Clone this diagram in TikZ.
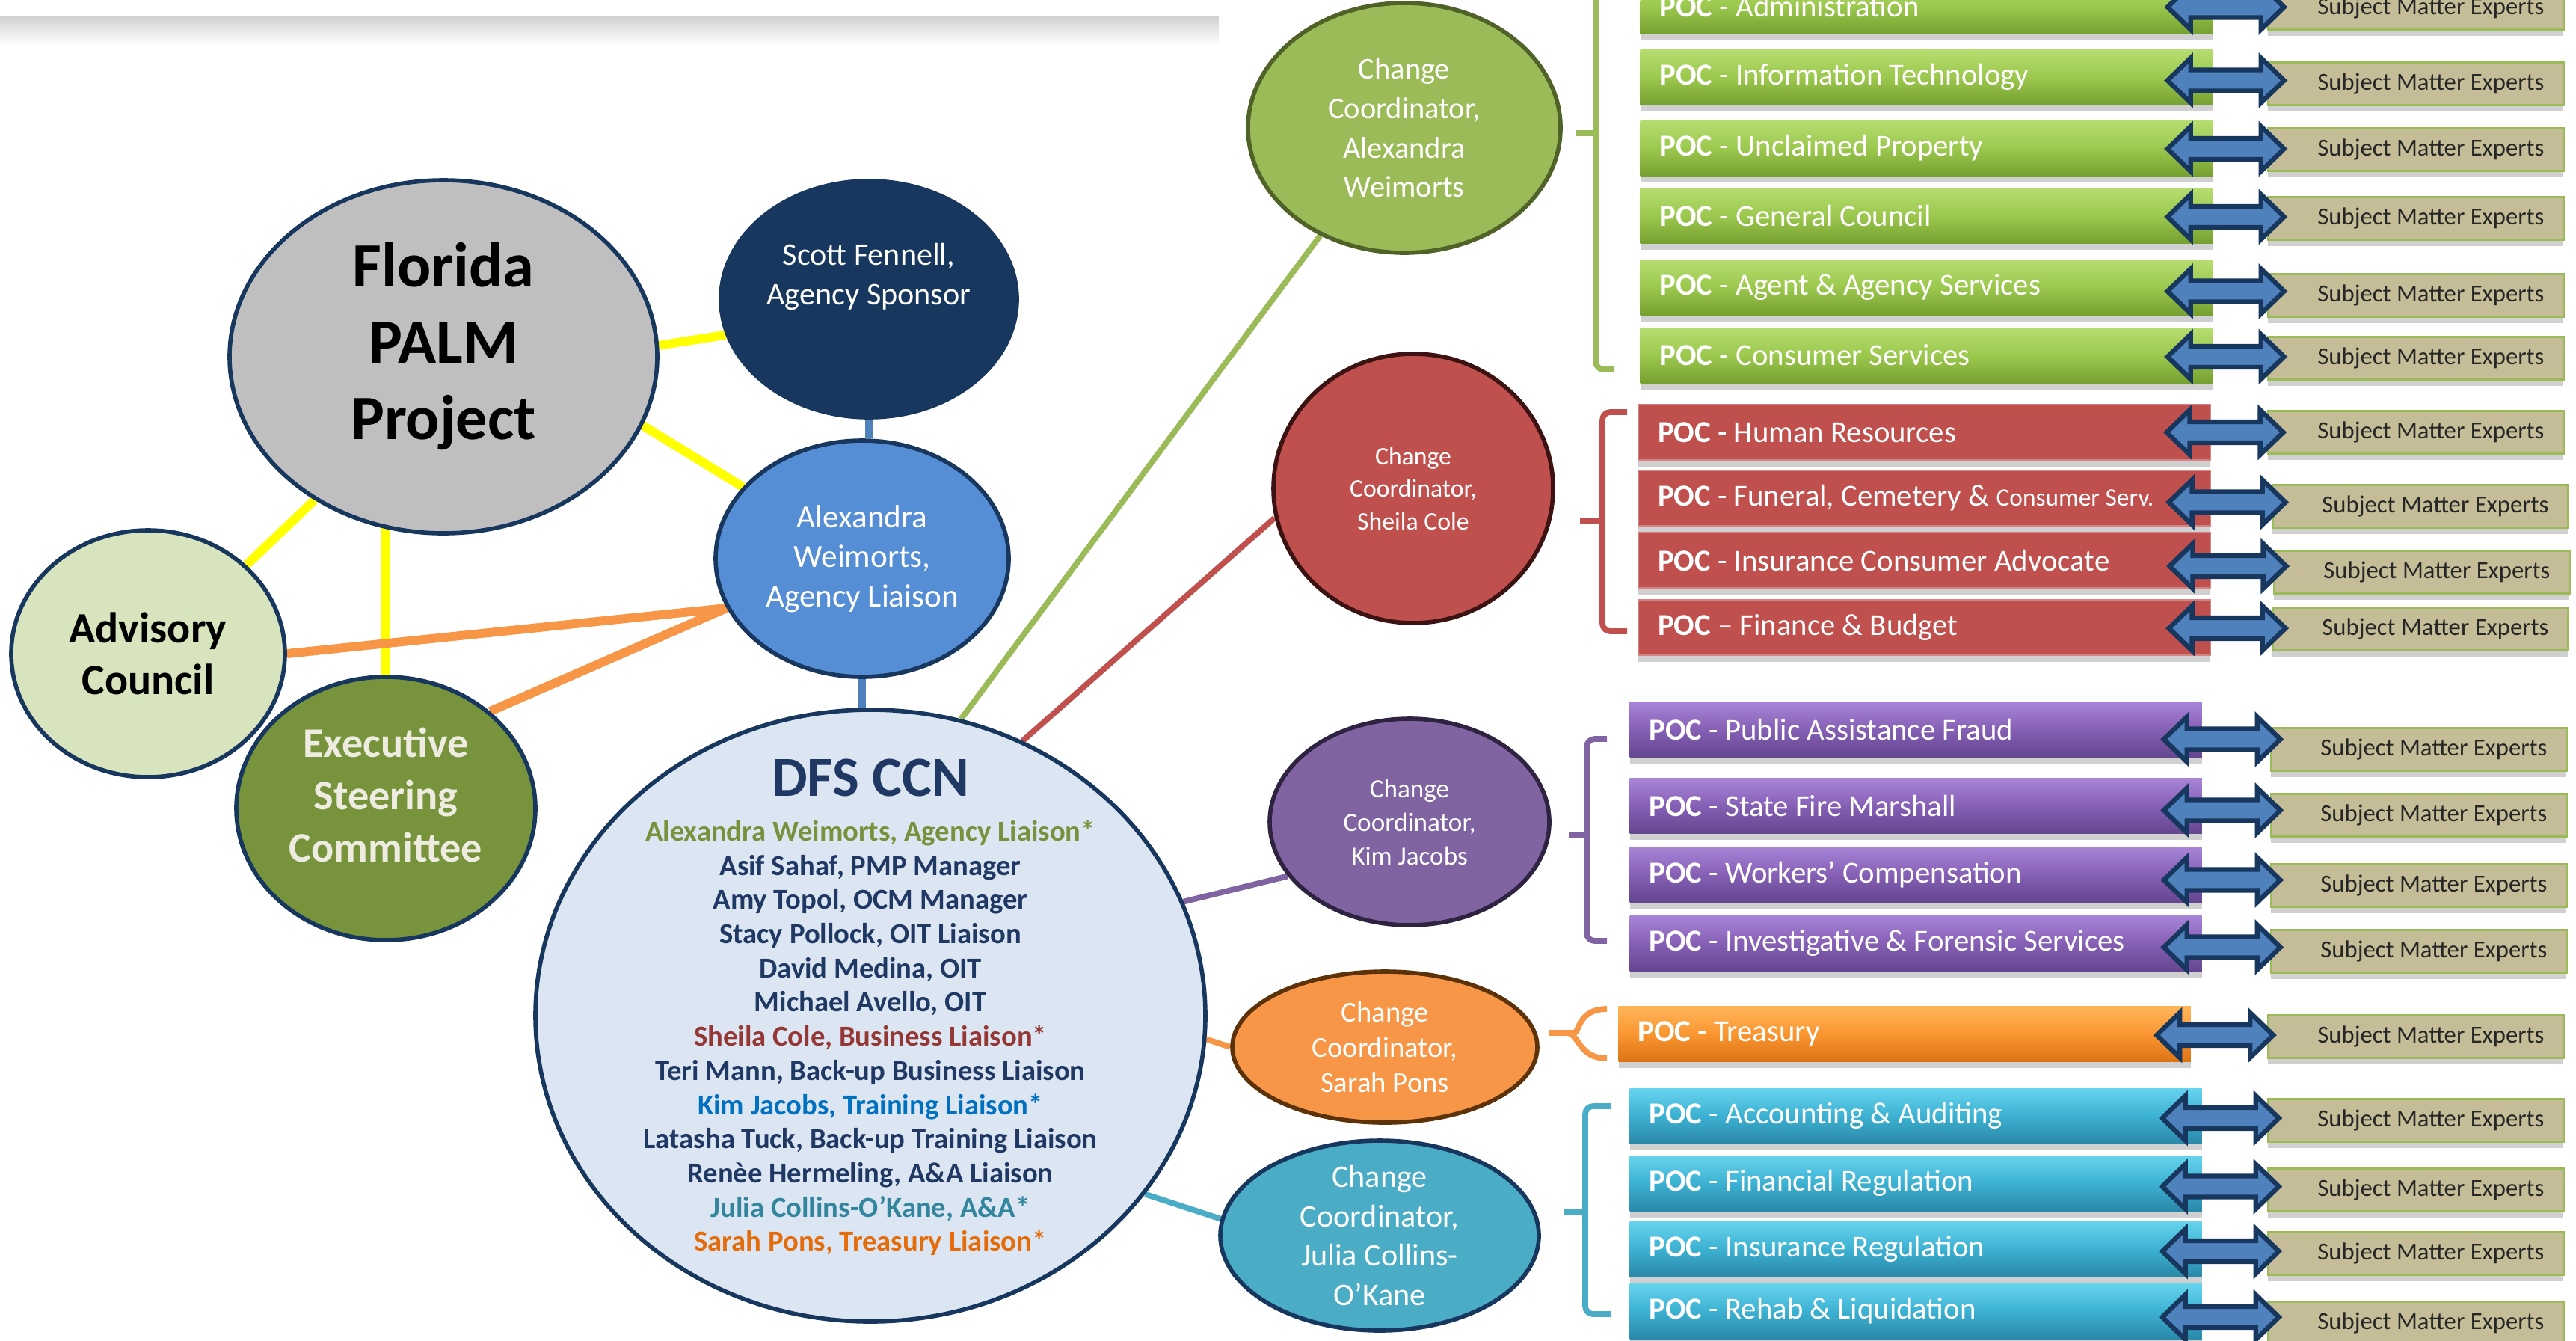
\documentclass[tikz,border=0pt]{standalone}
\usepackage{fontspec}
\setmainfont{Carlito}
\usetikzlibrary{shapes,calc,backgrounds}

\definecolor{navy}{HTML}{17375E}
\definecolor{navytxt}{HTML}{1F3864}
\definecolor{palmgray}{HTML}{BFBFBF}
\definecolor{liaison}{HTML}{558ED5}
\definecolor{advisory}{HTML}{D7E4BD}
\definecolor{steering}{HTML}{77933C}
\definecolor{ccnfill}{HTML}{DCE6F2}
\definecolor{linkyellow}{HTML}{FFFF00}
\definecolor{linkorange}{HTML}{F79646}
\definecolor{linkblue}{HTML}{4F81BD}
\definecolor{ccgreen}{HTML}{9BBB59}
\definecolor{ccgreenD}{HTML}{4F6228}
\definecolor{ccred}{HTML}{C0504D}
\definecolor{ccredD}{HTML}{3C1312}
\definecolor{ccpurple}{HTML}{8064A2}
\definecolor{ccpurpleD}{HTML}{2E2442}
\definecolor{ccorange}{HTML}{F79646}
\definecolor{ccorangeD}{HTML}{5E3208}
\definecolor{ccteal}{HTML}{4BACC6}
\definecolor{smefill}{HTML}{C4BD97}
\definecolor{shadowgray}{HTML}{D0D0D0}
\definecolor{cream}{HTML}{EEECE1}
\definecolor{txtgreen}{HTML}{76923C}
\definecolor{txtred}{HTML}{953735}
\definecolor{txtblue}{HTML}{0070C0}
\definecolor{txtteal}{HTML}{31859C}
\definecolor{txtorange}{HTML}{E46C0A}
\definecolor{gbarT}{HTML}{B6DD70}
\definecolor{gbarM}{HTML}{9CC84E}
\definecolor{gbarB}{HTML}{76A030}
\definecolor{pbarT}{HTML}{A985D8}
\definecolor{pbarM}{HTML}{8560B5}
\definecolor{pbarB}{HTML}{654690}
\definecolor{obarT}{HTML}{FFB65A}
\definecolor{obarM}{HTML}{FA9632}
\definecolor{obarB}{HTML}{DC7414}
\definecolor{tbarT}{HTML}{66D4EE}
\definecolor{tbarM}{HTML}{3DB1D2}
\definecolor{tbarB}{HTML}{2A88A8}

\tikzset{
  bubble/.style={ellipse,draw=navy,line width=1.6pt,inner sep=0pt},
  btext/.style={align=center,inner sep=0pt},
  link/.style={line width=3.4pt},
  cclink/.style={line width=2.2pt},
  brace/.style={line width=2.2pt,rounded corners=3pt},
  poc/.style={anchor=west,minimum width=7.65cm,minimum height=0.74cm,text width=7.13cm,
    inner xsep=0.26cm,inner ysep=0pt,align=flush left,text=white,font=\fontsize{11.6}{13}\selectfont,
    preaction={fill=shadowgray,transform canvas={yshift=-2.5pt}}},
  pocgreen/.style={poc,top color=gbarT,bottom color=gbarB,middle color=gbarM},
  pocred/.style={poc,fill=ccred,draw=ccred!70!white,line width=.6pt},
  pocpurple/.style={poc,top color=pbarT,bottom color=pbarB,middle color=pbarM},
  pocorange/.style={poc,top color=obarT,bottom color=obarB,middle color=obarM},
  pocteal/.style={poc,top color=tbarT,bottom color=tbarB,middle color=tbarM},
  sme/.style={anchor=west,minimum width=3.95cm,minimum height=0.57cm,text width=3.43cm,
    inner xsep=0.26cm,inner ysep=0pt,align=flush right,fill=smefill,draw=ccgreen,line width=.8pt,
    text=black!85,font=\fontsize{9.3}{11}\selectfont,
    preaction={fill=shadowgray,draw=none,transform canvas={yshift=-2.5pt}}},
  pics/twoway/.style={code={
    \filldraw[fill=linkblue,draw=navy,line width=1.8pt,line join=miter]
      (-0.78,0) -- (-0.47,0.30) -- (-0.47,0.14) -- (0.47,0.14) -- (0.47,0.30) -- (0.78,0)
      -- (0.47,-0.30) -- (0.47,-0.14) -- (-0.47,-0.14) -- (-0.47,-0.30) -- cycle;}},
}

\begin{document}
\begin{tikzpicture}
\useasboundingbox (0,0) rectangle (34.45,-17.92);

% slide frame at the top
\shade[top color=black!18,bottom color=white] (0,-0.22) rectangle (16.3,-0.6);
\fill[white] (-0.2,0.5) rectangle (16.18,-0.22);

% project and sponsor bubbles
\node[bubble,fill=palmgray,minimum width=5.72cm,minimum height=4.72cm] (flp) at (5.93,-4.77) {};
\node[btext,font=\bfseries\fontsize{24}{29}\selectfont] (flp-t) at ($(flp)+(0,0.14)$) {Florida\\PALM\\Project};
\node[bubble,fill=navy,minimum width=3.96cm,minimum height=3.16cm] (scott) at (11.62,-4.00) {};
\node[btext,text=white,font=\fontsize{12}{15}\selectfont] (scott-t) at ($(scott)+(0,0.30)$) {Scott Fennell,\\Agency Sponsor};
\node[bubble,fill=liaison,minimum width=3.92cm,minimum height=3.16cm] (alex) at (11.53,-7.47) {};
\node[btext,text=white,font=\fontsize{12.3}{15}\selectfont] (alex-t) at (alex) {Alexandra\\Weimorts,\\Agency Liaison};
\node[bubble,fill=advisory,minimum width=3.66cm,minimum height=3.30cm] (adv) at (1.98,-8.74) {};
\node[btext,font=\bfseries\fontsize{16.5}{19.5}\selectfont] (adv-t) at (adv) {Advisory\\Council};
\node[bubble,fill=steering,minimum width=4.00cm,minimum height=3.52cm] (exec) at (5.16,-10.81) {};
\node[btext,text=cream,font=\bfseries\fontsize{16}{20}\selectfont] (exec-t) at ($(exec)+(0,0.18)$) {Executive\\Steering\\Committee};

% DFS CCN
\node[bubble,fill=ccnfill,minimum width=8.96cm,minimum height=8.18cm] (dfs) at (11.64,-13.58) {};
\node[btext,text=navytxt,font=\bfseries\fontsize{11}{13}\selectfont] (dfs-t) at ($(dfs)+(0,0.11)$) {%
  {\fontsize{21.5}{24}\selectfont DFS CCN}\\[4pt]
  \textcolor{txtgreen}{Alexandra Weimorts, Agency Liaison*}\\
  Asif Sahaf, PMP Manager\\
  Amy Topol, OCM Manager\\
  Stacy Pollock, OIT Liaison\\
  David Medina, OIT\\
  Michael Avello, OIT\\
  \textcolor{txtred}{Sheila Cole, Business Liaison*}\\
  Teri Mann, Back-up Business Liaison\\
  \textcolor{txtblue}{Kim Jacobs, Training Liaison*}\\
  Latasha Tuck, Back-up Training Liaison\\
  Renèe Hermeling, A\&A Liaison\\
  \textcolor{txtteal}{Julia Collins-O’Kane, A\&A*}\\
  \textcolor{txtorange}{Sarah Pons, Treasury Liaison*}};

% change coordinators
\node[bubble,fill=ccgreen,draw=ccgreenD,minimum width=4.18cm,minimum height=3.34cm] (ccg) at (18.78,-1.71) {};
\node[btext,text=white,font=\fontsize{11.5}{15}\selectfont] (ccg-t) at (ccg) {Change\\Coordinator,\\Alexandra\\Weimorts};
\node[bubble,fill=ccred,draw=ccredD,minimum width=3.74cm,minimum height=3.60cm] (ccr) at (18.90,-6.53) {};
\node[btext,text=white,font=\fontsize{9.6}{12.4}\selectfont] (ccr-t) at (ccr) {Change\\Coordinator,\\Sheila Cole};
\node[bubble,fill=ccpurple,draw=ccpurpleD,minimum width=3.74cm,minimum height=2.76cm] (ccp) at (18.85,-10.99) {};
\node[btext,text=white,font=\fontsize{10}{12.8}\selectfont] (ccp-t) at (ccp) {Change\\Coordinator,\\Kim Jacobs};
\node[bubble,fill=ccorange,draw=ccorangeD,minimum width=4.08cm,minimum height=2.02cm] (cco) at (18.52,-14.00) {};
\node[btext,text=white,font=\fontsize{11}{13.4}\selectfont] (cco-t) at (cco) {Change\\Coordinator,\\Sarah Pons};
\node[bubble,fill=ccteal,minimum width=4.26cm,minimum height=2.54cm] (cct) at (18.45,-16.52) {};
\node[btext,text=white,font=\fontsize{12}{15}\selectfont] (cct-t) at (cct) {Change\\Coordinator,\\Julia Collins-\\O’Kane};

% links behind the bubbles
\begin{scope}[on background layer]
\draw[link,linkyellow] (flp.3) -- (scott.194);
\draw[link,linkyellow] (flp.341) -- (alex.149);
\draw[link,linkyellow] (flp.228) -- (adv.42);
\draw[link,linkyellow] (exec.north) -- (exec.north |- flp.center);
\draw[link,linkorange] (adv.east) -- (alex.200);
\draw[link,linkorange] (exec.43) -- (alex.200);
\draw[link,linkblue,line width=3pt] (scott.south) -- (scott.south |- alex.north);
\draw[link,linkblue,line width=3pt] (alex.south) -- (alex.south |- dfs.north);
\draw[cclink,ccgreen] (dfs.73) -- (ccg.232);
\draw[cclink,ccred] (dfs.61) -- (ccr.192);
\draw[cclink,ccpurple] (dfs.20) -- (ccp.204);
\draw[cclink,ccorange] (dfs.356) -- (cco.west);
\draw[cclink,ccteal] (dfs.327) -- (cct.174);
\end{scope}

% brackets
\draw[brace,ccgreen] (21.59,-4.94) -| (21.34,0.4);
\draw[brace,ccgreen] (21.34,-1.78) -- (21.07,-1.78);
\draw[brace,ccred] (21.76,-5.51) -| (21.43,-8.44) -- (21.76,-8.44);
\draw[brace,ccred] (21.43,-6.97) -- (21.13,-6.97);
\draw[brace,ccpurple] (21.49,-9.88) -| (21.22,-12.58) -- (21.49,-12.58);
\draw[brace,ccpurple] (21.22,-11.17) -- (20.98,-11.17);
\draw[brace,ccorange] (21.49,-13.49) .. controls (21.10,-13.49) and (21.12,-13.81) .. (20.95,-13.81) -- (20.71,-13.81);
\draw[brace,ccorange] (21.49,-14.15) .. controls (21.10,-14.15) and (21.12,-13.81) .. (20.95,-13.81);
\draw[brace,ccteal] (21.55,-14.79) -| (21.20,-17.57) -- (21.55,-17.57);
\draw[brace,ccteal] (21.20,-16.20) -- (20.92,-16.20);

% points of contact
\node[pocgreen] (p1) at (21.93,-0.08) {\textbf{POC} - Administration};
\node[pocgreen] (p2) at (21.93,-1.03) {\textbf{POC} - Information Technology};
\node[pocgreen] (p3) at (21.93,-1.98) {\textbf{POC} - Unclaimed Property};
\node[pocgreen] (p4) at (21.93,-2.88) {\textbf{POC} - General Council};
\node[pocgreen] (p5) at (21.93,-3.84) {\textbf{POC} - Agent \& Agency Services};
\node[pocgreen] (p6) at (21.93,-4.75) {\textbf{POC} - Consumer Services};
\node[pocred] (p7) at (21.90,-5.78) {\textbf{POC} - Human Resources};
\node[pocred] (p8) at (21.90,-6.66) {\textbf{POC} - Funeral, Cemetery \& {\fontsize{9.5}{11}\selectfont Consumer Serv.}};
\node[pocred] (p9) at (21.90,-7.49) {\textbf{POC} - Insurance Consumer Advocate};
\node[pocred] (p10) at (21.90,-8.39) {\textbf{POC} – Finance \& Budget};
\node[pocpurple] (p11) at (21.79,-9.75) {\textbf{POC} - Public Assistance Fraud};
\node[pocpurple] (p12) at (21.79,-10.77) {\textbf{POC} - State Fire Marshall};
\node[pocpurple] (p13) at (21.79,-11.69) {\textbf{POC} - Workers’ Compensation};
\node[pocpurple] (p14) at (21.79,-12.61) {\textbf{POC} - Investigative \& Forensic Services};
\node[pocorange] (p15) at (21.64,-13.82) {\textbf{POC} - Treasury};
\node[pocteal] (p16) at (21.79,-14.92) {\textbf{POC} - Accounting \& Auditing};
\node[pocteal] (p17) at (21.79,-15.82) {\textbf{POC} - Financial Regulation};
\node[pocteal] (p18) at (21.79,-16.70) {\textbf{POC} - Insurance Regulation};
\node[pocteal] (p19) at (21.79,-17.53) {\textbf{POC} - Rehab \& Liquidation};

% subject matter experts
\node[sme] (s1) at (30.32,-0.11) {Subject Matter Experts};
\node[sme] (s2) at (30.32,-1.12) {Subject Matter Experts};
\node[sme] (s3) at (30.32,-2.00) {Subject Matter Experts};
\node[sme] (s4) at (30.32,-2.92) {Subject Matter Experts};
\node[sme] (s5) at (30.32,-3.95) {Subject Matter Experts};
\node[sme] (s6) at (30.32,-4.79) {Subject Matter Experts};
\node[sme] (s7) at (30.32,-5.78) {Subject Matter Experts};
\node[sme] (s8) at (30.38,-6.77) {Subject Matter Experts};
\node[sme] (s9) at (30.40,-7.65) {Subject Matter Experts};
\node[sme] (s10) at (30.38,-8.41) {Subject Matter Experts};
\node[sme] (s11) at (30.36,-10.02) {Subject Matter Experts};
\node[sme] (s12) at (30.36,-10.90) {Subject Matter Experts};
\node[sme] (s13) at (30.36,-11.84) {Subject Matter Experts};
\node[sme] (s14) at (30.36,-12.72) {Subject Matter Experts};
\node[sme] (s15) at (30.32,-13.86) {Subject Matter Experts};
\node[sme] (s16) at (30.32,-14.98) {Subject Matter Experts};
\node[sme] (s17) at (30.32,-15.91) {Subject Matter Experts};
\node[sme] (s18) at (30.32,-16.76) {Subject Matter Experts};
\node[sme] (s19) at (30.32,-17.69) {Subject Matter Experts};

% two-way arrows between the boxes
\pic at ($(p1.east)!.5!(s1.west)+(-0.19,0)$) {twoway};
\pic at ($(p2.east)!.5!(s2.west)+(-0.19,0)$) {twoway};
\pic at ($(p3.east)!.5!(s3.west)+(-0.19,0)$) {twoway};
\pic at ($(p4.east)!.5!(s4.west)+(-0.19,0)$) {twoway};
\pic at ($(p5.east)!.5!(s5.west)+(-0.19,0)$) {twoway};
\pic at ($(p6.east)!.5!(s6.west)+(-0.19,0)$) {twoway};
\pic at ($(p7.east)!.5!(s7.west)+(-0.19,0)$) {twoway};
\pic at ($(p8.east)!.5!(s8.west)+(-0.19,0)$) {twoway};
\pic at ($(p9.east)!.5!(s9.west)+(-0.19,0)$) {twoway};
\pic at ($(p10.east)!.5!(s10.west)+(-0.19,0)$) {twoway};
\pic at ($(p11.east)!.5!(s11.west)+(-0.19,0)$) {twoway};
\pic at ($(p12.east)!.5!(s12.west)+(-0.19,0)$) {twoway};
\pic at ($(p13.east)!.5!(s13.west)+(-0.19,0)$) {twoway};
\pic at ($(p14.east)!.5!(s14.west)+(-0.19,0)$) {twoway};
\pic at ($(p15.east)!.5!(s15.west)+(-0.19,0)$) {twoway};
\pic at ($(p16.east)!.5!(s16.west)+(-0.19,0)$) {twoway};
\pic at ($(p17.east)!.5!(s17.west)+(-0.19,0)$) {twoway};
\pic at ($(p18.east)!.5!(s18.west)+(-0.19,0)$) {twoway};
\pic at ($(p19.east)!.5!(s19.west)+(-0.19,0)$) {twoway};
\end{tikzpicture}
\end{document}
